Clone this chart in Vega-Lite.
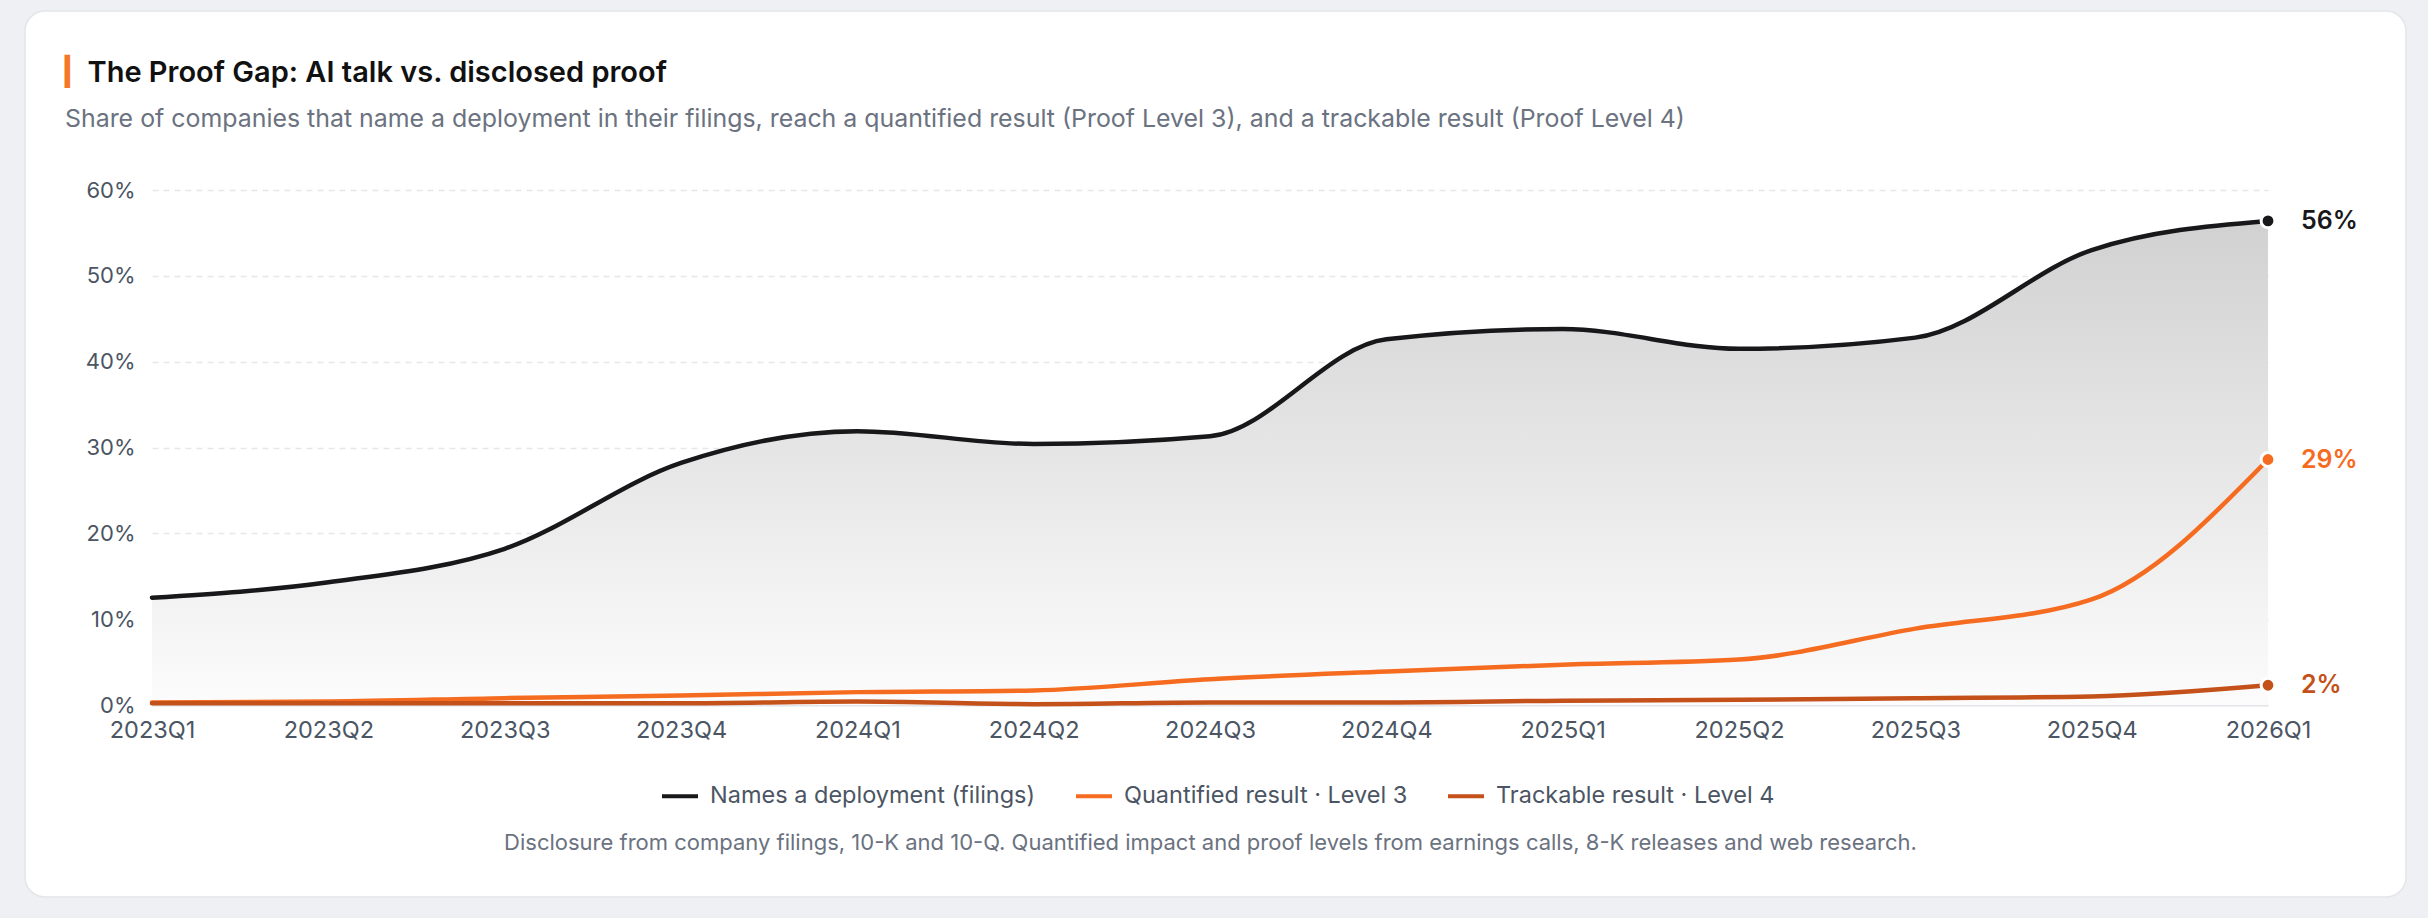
{
  "$schema": "https://vega.github.io/schema/vega-lite/v6.json",
  "width": 2381,
  "height": 886,
  "autosize": {"type": "none"},
  "padding": {"left": 25, "top": 11, "right": 22, "bottom": 21},
  "background": "#eff0f3",
  "config": {
    "font": "Inter",
    "view": {"fill": "#ffffff", "stroke": "#e3e5e9", "strokeWidth": 1.5, "cornerRadius": 20}
  },
  "title": {
    "text": "▎",
    "subtitle": "Share of companies that name a deployment in their filings, reach a quantified result (Proof Level 3), and a trackable result (Proof Level 4)",
    "frame": "group",
    "anchor": "start",
    "orient": "top",
    "offset": -121,
    "dx": 40,
    "font": "DejaVu Sans",
    "fontSize": 28,
    "fontWeight": 400,
    "color": "#f5782a",
    "subtitleFont": "Inter",
    "subtitleFontSize": 24.9,
    "subtitleColor": "#6b7280",
    "subtitlePadding": 20
  },
  "data": {
    "values": [
      {"quarter": "2023Q1", "series": "Names a deployment (filings)", "value": 12.5},
      {"quarter": "2023Q2", "series": "Names a deployment (filings)", "value": 14.3},
      {"quarter": "2023Q3", "series": "Names a deployment (filings)", "value": 18.2},
      {"quarter": "2023Q4", "series": "Names a deployment (filings)", "value": 28.2},
      {"quarter": "2024Q1", "series": "Names a deployment (filings)", "value": 31.9},
      {"quarter": "2024Q2", "series": "Names a deployment (filings)", "value": 30.4},
      {"quarter": "2024Q3", "series": "Names a deployment (filings)", "value": 31.3},
      {"quarter": "2024Q4", "series": "Names a deployment (filings)", "value": 42.6},
      {"quarter": "2025Q1", "series": "Names a deployment (filings)", "value": 43.8},
      {"quarter": "2025Q2", "series": "Names a deployment (filings)", "value": 41.5},
      {"quarter": "2025Q3", "series": "Names a deployment (filings)", "value": 42.8},
      {"quarter": "2025Q4", "series": "Names a deployment (filings)", "value": 53.0},
      {"quarter": "2026Q1", "series": "Names a deployment (filings)", "value": 56.4},
      {"quarter": "2023Q1", "series": "Quantified result · Level 3", "value": 0.3},
      {"quarter": "2023Q2", "series": "Quantified result · Level 3", "value": 0.4},
      {"quarter": "2023Q3", "series": "Quantified result · Level 3", "value": 0.8},
      {"quarter": "2023Q4", "series": "Quantified result · Level 3", "value": 1.1},
      {"quarter": "2024Q1", "series": "Quantified result · Level 3", "value": 1.5},
      {"quarter": "2024Q2", "series": "Quantified result · Level 3", "value": 1.7},
      {"quarter": "2024Q3", "series": "Quantified result · Level 3", "value": 3.0},
      {"quarter": "2024Q4", "series": "Quantified result · Level 3", "value": 3.9},
      {"quarter": "2025Q1", "series": "Quantified result · Level 3", "value": 4.7},
      {"quarter": "2025Q2", "series": "Quantified result · Level 3", "value": 5.3},
      {"quarter": "2025Q3", "series": "Quantified result · Level 3", "value": 8.9},
      {"quarter": "2025Q4", "series": "Quantified result · Level 3", "value": 12.3},
      {"quarter": "2026Q1", "series": "Quantified result · Level 3", "value": 28.6},
      {"quarter": "2023Q1", "series": "Trackable result · Level 4", "value": 0.2},
      {"quarter": "2023Q2", "series": "Trackable result · Level 4", "value": 0.2},
      {"quarter": "2023Q3", "series": "Trackable result · Level 4", "value": 0.2},
      {"quarter": "2023Q4", "series": "Trackable result · Level 4", "value": 0.2},
      {"quarter": "2024Q1", "series": "Trackable result · Level 4", "value": 0.4},
      {"quarter": "2024Q2", "series": "Trackable result · Level 4", "value": 0.1},
      {"quarter": "2024Q3", "series": "Trackable result · Level 4", "value": 0.3},
      {"quarter": "2024Q4", "series": "Trackable result · Level 4", "value": 0.3},
      {"quarter": "2025Q1", "series": "Trackable result · Level 4", "value": 0.5},
      {"quarter": "2025Q2", "series": "Trackable result · Level 4", "value": 0.6},
      {"quarter": "2025Q3", "series": "Trackable result · Level 4", "value": 0.8},
      {"quarter": "2025Q4", "series": "Trackable result · Level 4", "value": 1.0},
      {"quarter": "2026Q1", "series": "Trackable result · Level 4", "value": 2.3}
    ]
  },
  "encoding": {
    "x": {
      "field": "quarter",
      "type": "ordinal",
      "scale": {"type": "point", "range": [127, 2243], "padding": 0},
      "axis": {
        "orient": "bottom",
        "offset": -192,
        "title": "Disclosure from company filings, 10-K and 10-Q. Quantified impact and proof levels from earnings calls, 8-K releases and web research.",
        "titleFont": "Inter",
        "titleFontSize": 22,
        "titleFontWeight": 400,
        "titleColor": "#6b7280",
        "titlePadding": 91,
        "labelFont": "Inter",
        "labelFontSize": 23.5,
        "labelColor": "#4b5563",
        "labelPadding": 13,
        "labelAngle": 0,
        "ticks": false,
        "tickSize": 0,
        "domain": true,
        "domainColor": "#e3e5e9",
        "domainWidth": 2,
        "grid": false
      }
    },
    "y": {
      "field": "value",
      "type": "quantitative",
      "scale": {"domain": [0, 60], "range": [694, 179], "nice": false},
      "axis": {
        "orient": "left",
        "offset": -127,
        "title": "The Proof Gap: AI talk vs. disclosed proof",
        "titleAngle": 0,
        "titleX": -65,
        "titleY": 70,
        "titleAlign": "left",
        "titleBaseline": "alphabetic",
        "titleFont": "Inter",
        "titleFontSize": 29,
        "titleFontWeight": 600,
        "titleColor": "#111111",
        "titleLimit": 1000,
        "values": [0, 10, 20, 30, 40, 50, 60],
        "labelExpr": "datum.value + '%'",
        "labelFont": "Inter",
        "labelFontSize": 22,
        "labelColor": "#4b5563",
        "labelPadding": 17,
        "ticks": false,
        "tickSize": 0,
        "domain": false,
        "grid": true,
        "gridColor": "#e6e7eb",
        "gridDash": [6, 5],
        "gridWidth": 1.5
      }
    }
  },
  "layer": [
    {
      "transform": [{"filter": "datum.series === 'Names a deployment (filings)'"}],
      "mark": {
        "type": "area",
        "interpolate": "monotone",
        "color": {
          "gradient": "linear",
          "x1": 0, "y1": 0, "x2": 0, "y2": 1,
          "stops": [
            {"offset": 0, "color": "#d1d1d1"},
            {"offset": 1, "color": "#fcfcfc"}
          ]
        }
      }
    },
    {
      "mark": {"type": "line", "interpolate": "monotone", "strokeWidth": 4.5, "strokeCap": "round"},
      "encoding": {
        "color": {
          "field": "series",
          "type": "nominal",
          "scale": {
            "domain": ["Names a deployment (filings)", "Quantified result · Level 3", "Trackable result · Level 4"],
            "range": ["#18181b", "#f56b1f", "#c4511a"]
          },
          "legend": {
            "orient": "none",
            "legendX": 635,
            "legendY": 765,
            "direction": "horizontal",
            "title": null,
            "symbolType": "stroke",
            "symbolSize": 1296,
            "symbolStrokeWidth": 4,
            "labelFont": "Inter",
            "labelFontSize": 23.5,
            "labelColor": "#4b5563",
            "labelOffset": 10,
            "labelLimit": 600,
            "columnPadding": 32
          }
        }
      }
    },
    {
      "transform": [{"filter": "datum.quarter === '2026Q1'"}],
      "mark": {"type": "circle", "size": 190, "opacity": 1, "stroke": "#ffffff", "strokeWidth": 3},
      "encoding": {
        "color": {"field": "series", "type": "nominal", "legend": null}
      }
    },
    {
      "transform": [
        {"filter": "datum.quarter === '2026Q1'"},
        {"calculate": "format(datum.value, '.0f') + '%'", "as": "label"}
      ],
      "mark": {"type": "text", "align": "left", "baseline": "middle", "dx": 33, "fontSize": 25, "fontWeight": 600, "font": "Inter"},
      "encoding": {
        "text": {"field": "label"},
        "color": {"field": "series", "type": "nominal", "legend": null}
      }
    }
  ]
}
